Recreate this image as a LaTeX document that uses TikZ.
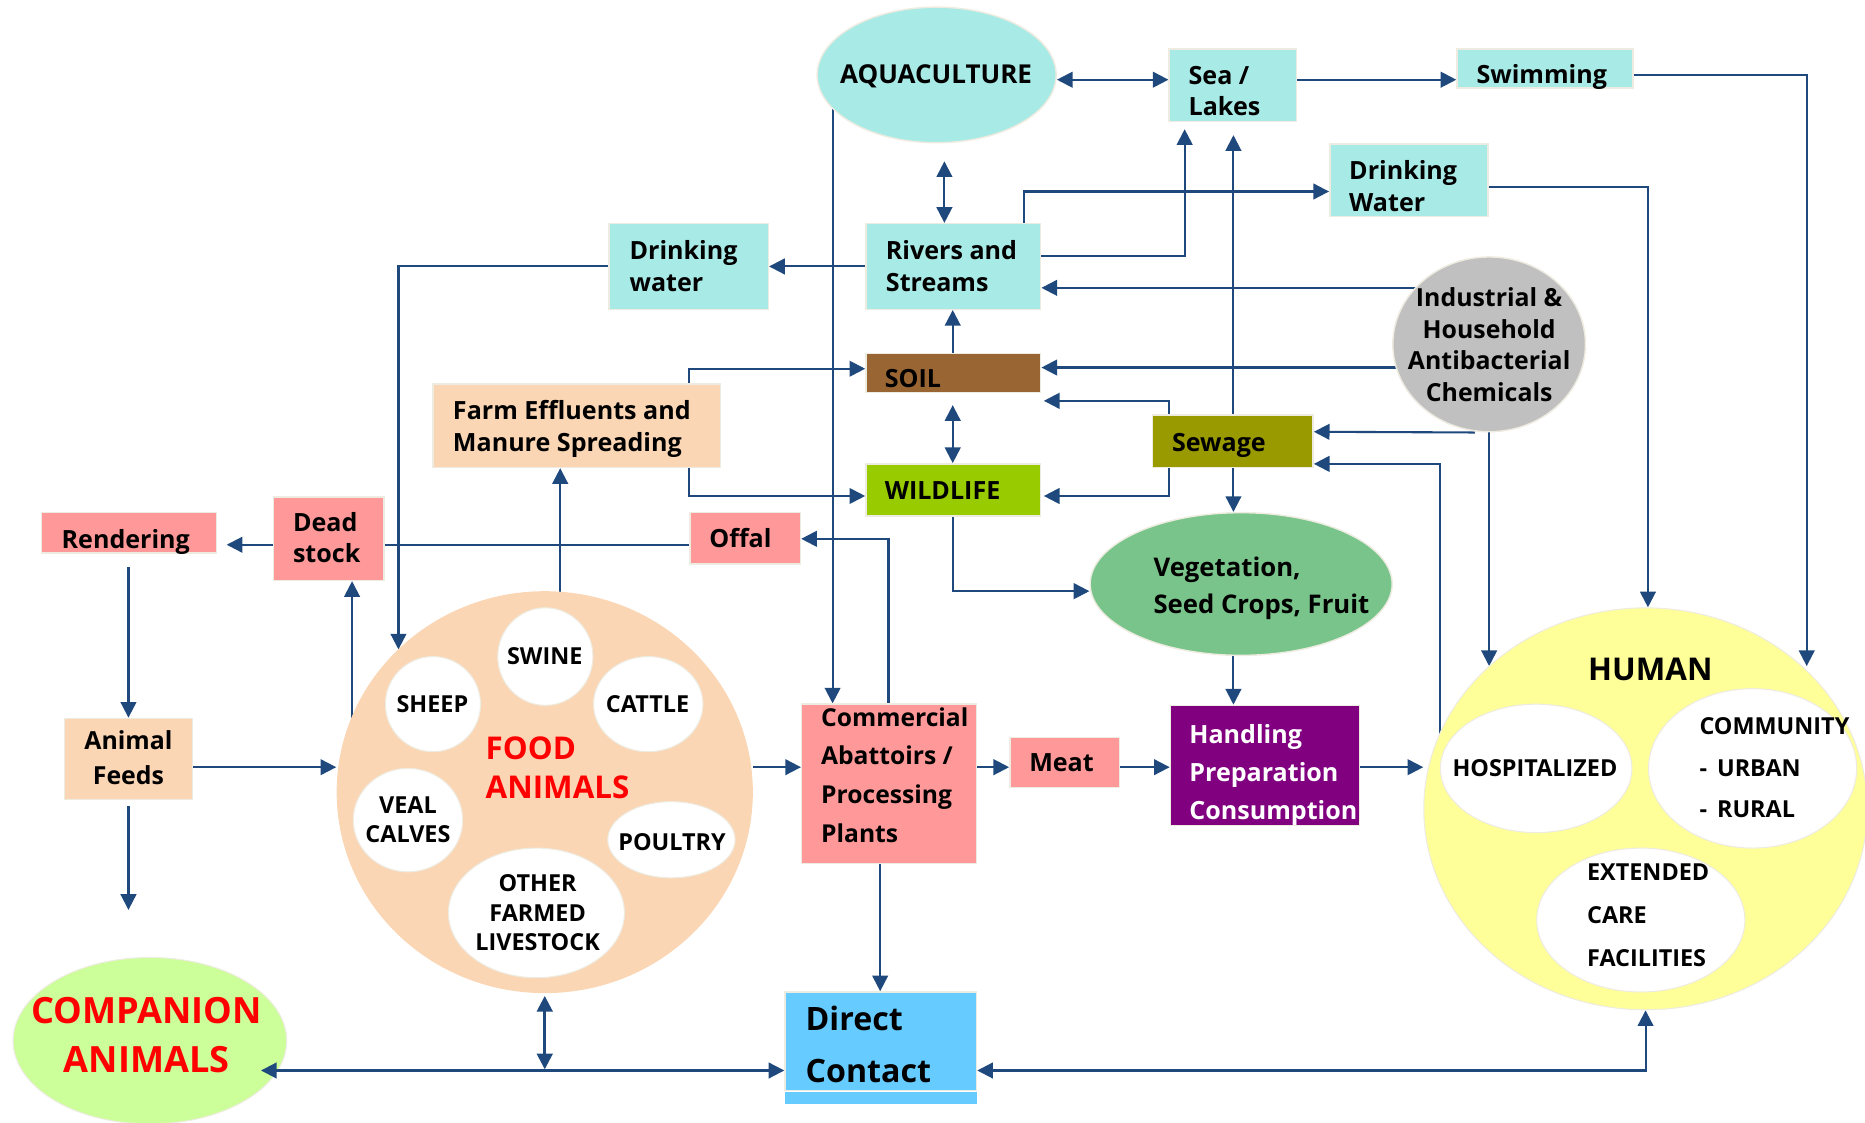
\documentclass[tikz,border=0pt]{standalone}
\usepackage{fontspec}
\setmainfont{Open Sans}
\usetikzlibrary{arrows.meta,shapes.geometric,calc}
\definecolor{cy}{HTML}{A8EAE6}
\definecolor{bord}{HTML}{EEECE1}
\definecolor{pk}{HTML}{FF9999}
\definecolor{pch}{HTML}{FBD6B5}
\definecolor{soilc}{HTML}{996633}
\definecolor{sewc}{HTML}{999900}
\definecolor{wildc}{HTML}{99CC00}
\definecolor{vegc}{HTML}{79C48A}
\definecolor{purp}{HTML}{800080}
\definecolor{humc}{HTML}{FFFF99}
\definecolor{dcc}{HTML}{66CCFF}
\definecolor{compc}{HTML}{CCFF99}
\definecolor{grayc}{HTML}{C0C0C0}
\definecolor{arr}{HTML}{1F497D}
\definecolor{redc}{HTML}{FF0000}
\pgfdeclarelayer{bg}
\pgfsetlayers{bg,main}
\newcommand{\fmain}{\fontsize{12.0pt}{15.1pt}\selectfont\bfseries}
\newcommand{\findus}{\fontsize{11.9pt}{15.2pt}\selectfont\bfseries}
\newcommand{\fcomm}{\fontsize{11.8pt}{18.5pt}\selectfont\bfseries}
\newcommand{\fhand}{\fontsize{12.0pt}{18.2pt}\selectfont\bfseries}
\newcommand{\fveg}{\fontsize{12.3pt}{17.4pt}\selectfont\bfseries}
\newcommand{\ffeed}{\fontsize{11.9pt}{16.7pt}\selectfont\bfseries}
\newcommand{\fdir}{\fontsize{15.4pt}{24.7pt}\selectfont\bfseries}
\newcommand{\fcomp}{\fontsize{17.3pt}{23.3pt}\selectfont\bfseries}
\newcommand{\ffood}{\fontsize{15pt}{18.2pt}\selectfont\bfseries}
\newcommand{\fhum}{\fontsize{15pt}{18pt}\selectfont\bfseries}
\newcommand{\fin}{\fontsize{11.2pt}{13.9pt}\selectfont\bfseries}
\newcommand{\fcom}{\fontsize{11.2pt}{19.8pt}\selectfont\bfseries}
\newcommand{\fext}{\fontsize{11.2pt}{20.6pt}\selectfont\bfseries}
\newcommand{\faqua}{\fontsize{12.45pt}{15pt}\selectfont\bfseries}
\tikzset{
  box/.style={rectangle, draw=bord, line width=0.7pt, inner sep=0pt},
  el/.style={ellipse, inner sep=0pt},
  wel/.style={ellipse, inner sep=0pt, fill=white, draw=bord, line width=0.5pt},
  tx/.style={anchor=west, align=left, inner sep=0pt, font=\fmain},
  tc/.style={anchor=center, align=center, inner sep=0pt, font=\fmain},
  ar/.style={draw=arr, line width=1pt, -{Triangle[length=7.5pt,width=7.5pt]}},
  bi/.style={draw=arr, line width=1pt, {Triangle[length=7.5pt,width=7.5pt]}-{Triangle[length=7.5pt,width=7.5pt]}},
  ln/.style={draw=arr, line width=1pt}
}
\begin{document}
\begin{tikzpicture}[x=0.02cm,y=-0.02cm]
\useasboundingbox (0,0) rectangle (1568,944);
% boxes
\node[box, fill=cy, minimum width=2.14cm, minimum height=1.22cm] (sea) at (1036.5,71.5) {};
\node[box, fill=cy, minimum width=2.96cm, minimum height=0.66cm] (swim) at (1299,57.5) {};
\node[box, fill=cy, minimum width=2.66cm, minimum height=1.22cm] (dwR) at (1184.5,151.5) {};
\node[box, fill=cy, minimum width=2.68cm, minimum height=1.44cm] (dwL) at (579,224) {};
\node[box, fill=cy, minimum width=2.94cm, minimum height=1.44cm] (rivers) at (801.5,224) {};
\node[box, fill=soilc, minimum width=2.94cm, minimum height=0.66cm] (soil) at (801.5,313.5) {};
\node[box, fill=pch, minimum width=4.84cm, minimum height=1.40cm] (farm) at (485,358) {};
\node[box, fill=sewc, minimum width=2.70cm, minimum height=0.88cm] (sew) at (1036.5,371) {};
\node[box, fill=wildc, minimum width=2.94cm, minimum height=0.88cm] (wild) at (801.5,412) {};
\node[box, fill=pk, minimum width=2.94cm, minimum height=0.68cm] (rend) at (108.5,448) {};
\node[box, fill=pk, minimum width=1.86cm, minimum height=1.40cm] (dead) at (276.5,453) {};
\node[box, fill=pk, minimum width=1.86cm, minimum height=0.86cm] (offal) at (626.5,452.5) {};
\node[box, fill=pch, minimum width=2.16cm, minimum height=1.36cm] (feeds) at (108,638) {};
\node[box, fill=pk, minimum width=2.94cm, minimum height=2.68cm] (comm) at (747.5,659) {};
\node[box, fill=pk, minimum width=1.84cm, minimum height=0.84cm] (meat) at (895,641) {};
\node[box, fill=purp, minimum width=3.18cm, minimum height=2.02cm] (hand) at (1063.5,643.5) {};
\node[box, fill=dcc, minimum width=3.22cm, minimum height=1.66cm] (direct) at (740.5,875.5) {};
\fill[dcc] (660,918) rectangle (821,928);
% ellipses
\node[el, fill=cy, draw=bord, line width=0.7pt, minimum width=4.02cm, minimum height=2.28cm] (aqua) at (787.5,63) {};
\node[el, fill=grayc, draw=bord, line width=0.7pt, minimum width=3.24cm, minimum height=2.94cm] (indus) at (1252,289.5) {};
\node[el, fill=vegc, draw=bord, line width=0.7pt, minimum width=5.08cm, minimum height=2.40cm] (veg) at (1043.5,491) {};
\node[el, fill=pch, minimum width=7.0cm, minimum height=6.76cm] (food) at (458,666) {};
\node[el, fill=humc, draw=bord, line width=0.5pt, minimum width=7.46cm, minimum height=6.76cm] (human) at (1383.5,680) {};
\node[el, fill=compc, draw=bord, line width=0.5pt, minimum width=4.6cm, minimum height=2.8cm] (comp) at (126,875) {};
\node[wel, minimum width=1.60cm, minimum height=1.64cm] (swine) at (458.5,552) {};
\node[wel, minimum width=1.60cm, minimum height=1.60cm] (sheep) at (364,592) {};
\node[wel, minimum width=1.84cm, minimum height=1.60cm] (cattle) at (545,592) {};
\node[wel, minimum width=1.84cm, minimum height=1.74cm] (veal) at (343,689.5) {};
\node[wel, minimum width=2.14cm, minimum height=1.28cm] (poultry) at (564.5,706) {};
\node[wel, minimum width=2.96cm, minimum height=2.18cm] (other) at (451,767.5) {};
\node[wel, minimum width=3.22cm, minimum height=2.16cm] (hosp) at (1291.5,646) {};
\node[wel, minimum width=3.50cm, minimum height=2.68cm] (commu) at (1473.5,646) {};
\node[wel, minimum width=3.50cm, minimum height=2.42cm] (ext) at (1379.5,773.5) {};
\coordinate (fend) at (108,765);
% texts
\node[tx] (sea-t) at (999,76.5) {Sea /\\Lakes};
\node[tx] (swim-t) at (1241,64.4) {Swimming};
\node[tx] (dwR-t) at (1134,156.3) {Drinking\\Water};
\node[tx] (dwL-t) at (529,223.5) {Drinking\\water};
\node[tx] (rivers-t) at (744.5,223.5) {Rivers and\\Streams};
\node[tx] (soil-t) at (743.5,318) {SOIL};
\node[tx] (farm-t) at (380.5,360.8) {Farm Effluents and\\Manure Spreading};
\node[tx] (sew-t) at (985,374.2) {Sewage};
\node[tx] (wild-t) at (743.5,412) {WILDLIFE};
\node[tx] (rend-t) at (51.5,455.4) {Rendering};
\node[tx] (dead-t) at (246,452) {Dead\\stock};
\node[tx] (offal-t) at (596,452.2) {Offal};
\node[tx, font=\fveg] (veg-t) at (969.5,494.7) {Vegetation,\\Seed Crops, Fruit};
\node[tc, font=\ffeed] (feeds-t) at (108,637) {Animal\\Feeds};
\node[tx, font=\fcomm] (comm-t) at (690,651.4) {Commercial\\Abattoirs /\\Processing\\Plants};
\node[tx] (meat-t) at (865,641) {Meat};
\node[tx, font=\fhand, text=white] (hand-t) at (999.6,651.75) {Handling\\Preparation\\Consumption};
\node[tx, font=\fdir] (direct-t) at (677,878) {Direct\\Contact};
\node[tc, font=\faqua] (aqua-t) at (787,64) {AQUACULTURE};
\node[tc, font=\findus] (indus-t) at (1252,289.75) {Industrial \&\\Household\\Antibacterial\\Chemicals};
\node[tc, font=\fcomp, text=redc] (comp-t) at (123.3,870.5) {COMPANION\\ANIMALS};
\node[tx, font=\ffood, text=redc] (food-t) at (408,645.5) {FOOD\\ANIMALS};
\node[tc, font=\fin] (swine-t) at (458,552) {SWINE};
\node[tc, font=\fin] (sheep-t) at (363.5,592) {SHEEP};
\node[tc, font=\fin] (cattle-t) at (544.5,592) {CATTLE};
\node[tc, font=\fin] (veal-t) at (343,689.5) {VEAL\\CALVES};
\node[tc, font=\fin] (poultry-t) at (565,708) {POULTRY};
\node[tc, font=\fin] (other-t) at (452,767.3) {OTHER\\FARMED\\LIVESTOCK};
\node[tc, font=\fhum] (human-t) at (1387.5,562.75) {HUMAN};
\node[tc, font=\fin] (hosp-t) at (1290.5,646) {HOSPITALIZED};
\node[tx, font=\fcom] (commu-t) at (1428.5,645.5) {COMMUNITY\\-\hspace{0.43em}URBAN\\-\hspace{0.43em}RURAL};
\node[tx, font=\fext] (ext-t) at (1334,769.5) {EXTENDED\\CARE\\FACILITIES};
% connectors drawn over nodes
\draw[bi] ($(comp.east |- 0,900)+(-22,0)$) -- (direct.west |- 0,900);
% connectors behind nodes
\begin{pgfonlayer}{bg}
\draw[bi] (aqua.east |- 0,67) -- (sea.west |- 0,67);
\draw[ar] (sea.east |- 0,67) -- (swim.west |- 0,67);
\draw[ar] (swim.east |- 0,63) -| ($(human.center)+(135.5,-120)$);
\draw[bi] ($(aqua.south -| 794,0)+(0,15)$) -- (rivers.north -| 794,0);
\draw[ar] (aqua.center -| 700,0) -- (comm.north -| 700,0);
\draw[ar] (rivers.west |- 0,224) -- (dwL.east |- 0,224);
\draw[ar] (dwL.west |- 0,224) -| ($(food.center)+(-123,-120)$);
\draw[ar] (rivers.east |- 0,215) -| ($(sea.south -| 996,0)+(0,6)$);
\draw[ar] (rivers.north -| 861,0) |- (dwR.west |- 0,161);
\draw[ar] (indus.center |- 0,242) -- (rivers.east |- 0,242);
\draw[ar] (dwR.east |- 0,157) -| ($(human.north)+(2,0)$);
\draw[ar] (soil.north -| 801,0) -- (rivers.south -| 801,0);
\draw[ar] (indus.center |- 0,309) -- (soil.east |- 0,309);
\draw[ar] (farm.north -| 579,0) |- (soil.west |- 0,310);
\draw[ar] (farm.south -| 579,0) |- (wild.west |- 0,417);
\draw[bi] ($(soil.south -| 801,0)+(0,10)$) -- (wild.north -| 801,0);
\draw[ar] (sew.north -| 983,0) |- ($(soil.east |- 0,337)+(2,0)$);
\draw[ar] (sew.south -| 983,0) |- ($(wild.east |- 0,417)+(2,0)$);
\draw[ar] (sew.north -| 1037,0) -- ($(sea.south -| 1037,0)+(0,11)$);
\draw[ar] (sew.south -| 1037,0) -- (veg.north -| 1037,0);
\draw[ar] ($(indus.south)+(-12,0)$) -- (sew.east |- 0,363);
\draw[ar] (indus.south) -- ($(human.center)+(-131.5,-120)$);
\draw[ar] (human.center -| 1211,0) |- (sew.east |- 0,390);
\draw[ar] (wild.south -| 801,0) |- (veg.west |- 0,497);
\draw[ar] (comm.north -| 747,0) |- (offal.east |- 0,453);
\draw[ln] (offal.west |- 0,458) -- (dead.east |- 0,458);
\draw[ar] (dead.west |- 0,458) -- ($(rend.east |- 0,458)+(8,0)$);
\draw[ar] (food.center -| 296,0) -- (dead.south -| 296,0);
\draw[ar] (food.center -| 471,0) -- (farm.south -| 471,0);
\draw[ar] ($(rend.south -| 108,0)+(0,11)$) -- (feeds.north -| 108,0);
\draw[ar] (feeds.east |- 0,645) -- (food.west |- 0,645);
\draw[ar] ($(feeds.south -| 108,0)+(0,5)$) -- (fend);
\draw[ar] (food.east |- 0,645) -- (comm.west |- 0,645);
\draw[ar] (comm.east |- 0,645) -- (meat.west |- 0,645);
\draw[ar] (meat.east |- 0,645) -- (hand.west |- 0,645);
\draw[ar] (hand.east |- 0,645) -- (human.west |- 0,645);
\draw[ar] (veg.south -| 1037,0) -- (hand.north -| 1037,0);
\draw[ar] (comm.south -| 740,0) -- (direct.north -| 740,0);
\draw[bi, line width=1.3pt] ($(food.south)+(0,2)$) -- (food.south |- 0,899);
\draw[bi] (direct.east |- 0,900) -| (human.south);
\end{pgfonlayer}
\end{tikzpicture}
\end{document}
